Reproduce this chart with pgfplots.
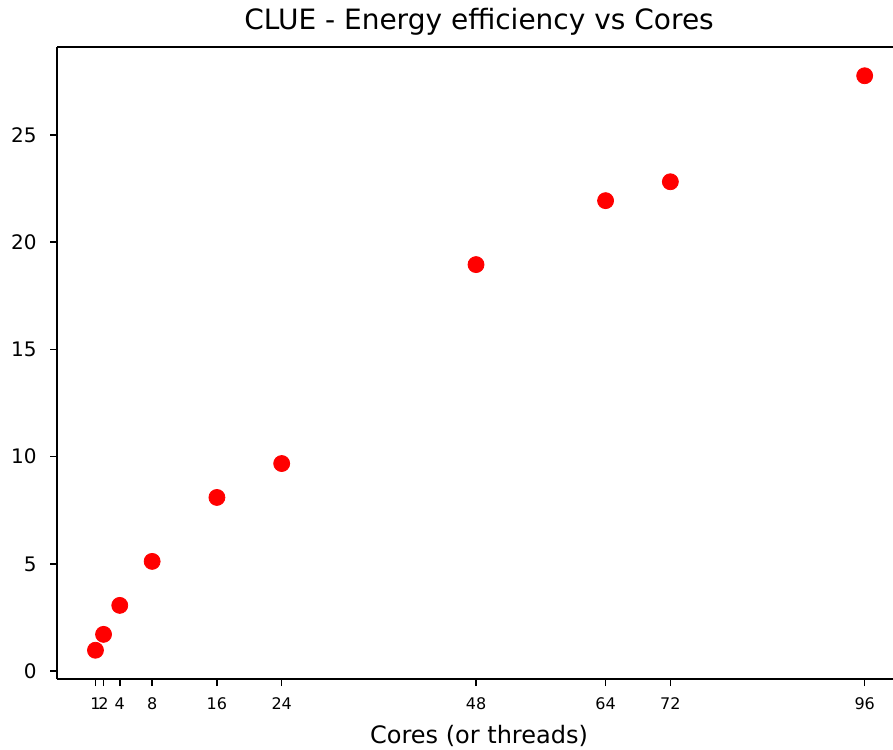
\documentclass[border=0pt]{standalone}
\usepackage{fontspec}
\setmainfont{DejaVu Sans}
\usepackage{pgfplots}
\pgfplotsset{compat=1.18}
\begin{document}
\begin{tikzpicture}
\begin{axis}[
  at={(0,0)}, anchor=south west,
  scale only axis,
  width=418pt, height=316pt,
  xmin=-3.75, xmax=99.5,
  ymin=-0.36, ymax=29.09,
  axis x line*=bottom, axis y line*=left,
  x axis line style={-, line width=0.8pt},
  y axis line style={-, line width=0.8pt},
  tick align=outside,
  major tick length=3.5pt,
  every tick/.style={black, line width=0.8pt},
  xtick={1,2,4,8,16,24,48,64,72,96},
  ytick={0,5,10,15,20,25},
  /pgf/number format/assume math mode=true,
  xticklabel style={font=\fontsize{8}{9}\selectfont, anchor=base, inner sep=0pt, yshift=-11.5pt},
  yticklabel style={font=\fontsize{10}{12}\selectfont, anchor=east, inner sep=0pt, xshift=-6.5pt},
  title={CLUE - Energy efficiency vs Cores},
  title style={at={(0.5048,1)}, anchor=base, yshift=2.5pt, font=\fontsize{14}{16}\selectfont},
  xlabel={Cores (or threads)},
  xlabel style={at={(0.5048,0)}, anchor=base, yshift=-32pt, font=\fontsize{12}{14}\selectfont},
  clip=false,
]
\addplot[only marks, mark=*, mark size=4pt, color=red, mark options={fill=red, draw=red}] coordinates {
  (1,0.98) (2,1.72) (4,3.07) (8,5.12) (16,8.10) (24,9.68) (48,18.95) (64,21.93) (72,22.81) (96,27.75)
};
\draw[line width=0.8pt] (rel axis cs:0,1) -- (rel axis cs:1,1);
\end{axis}
\pgfresetboundingbox
\path[use as bounding box] (-28.5pt,-35pt) rectangle (418pt,339.5pt);
\end{tikzpicture}
\end{document}
